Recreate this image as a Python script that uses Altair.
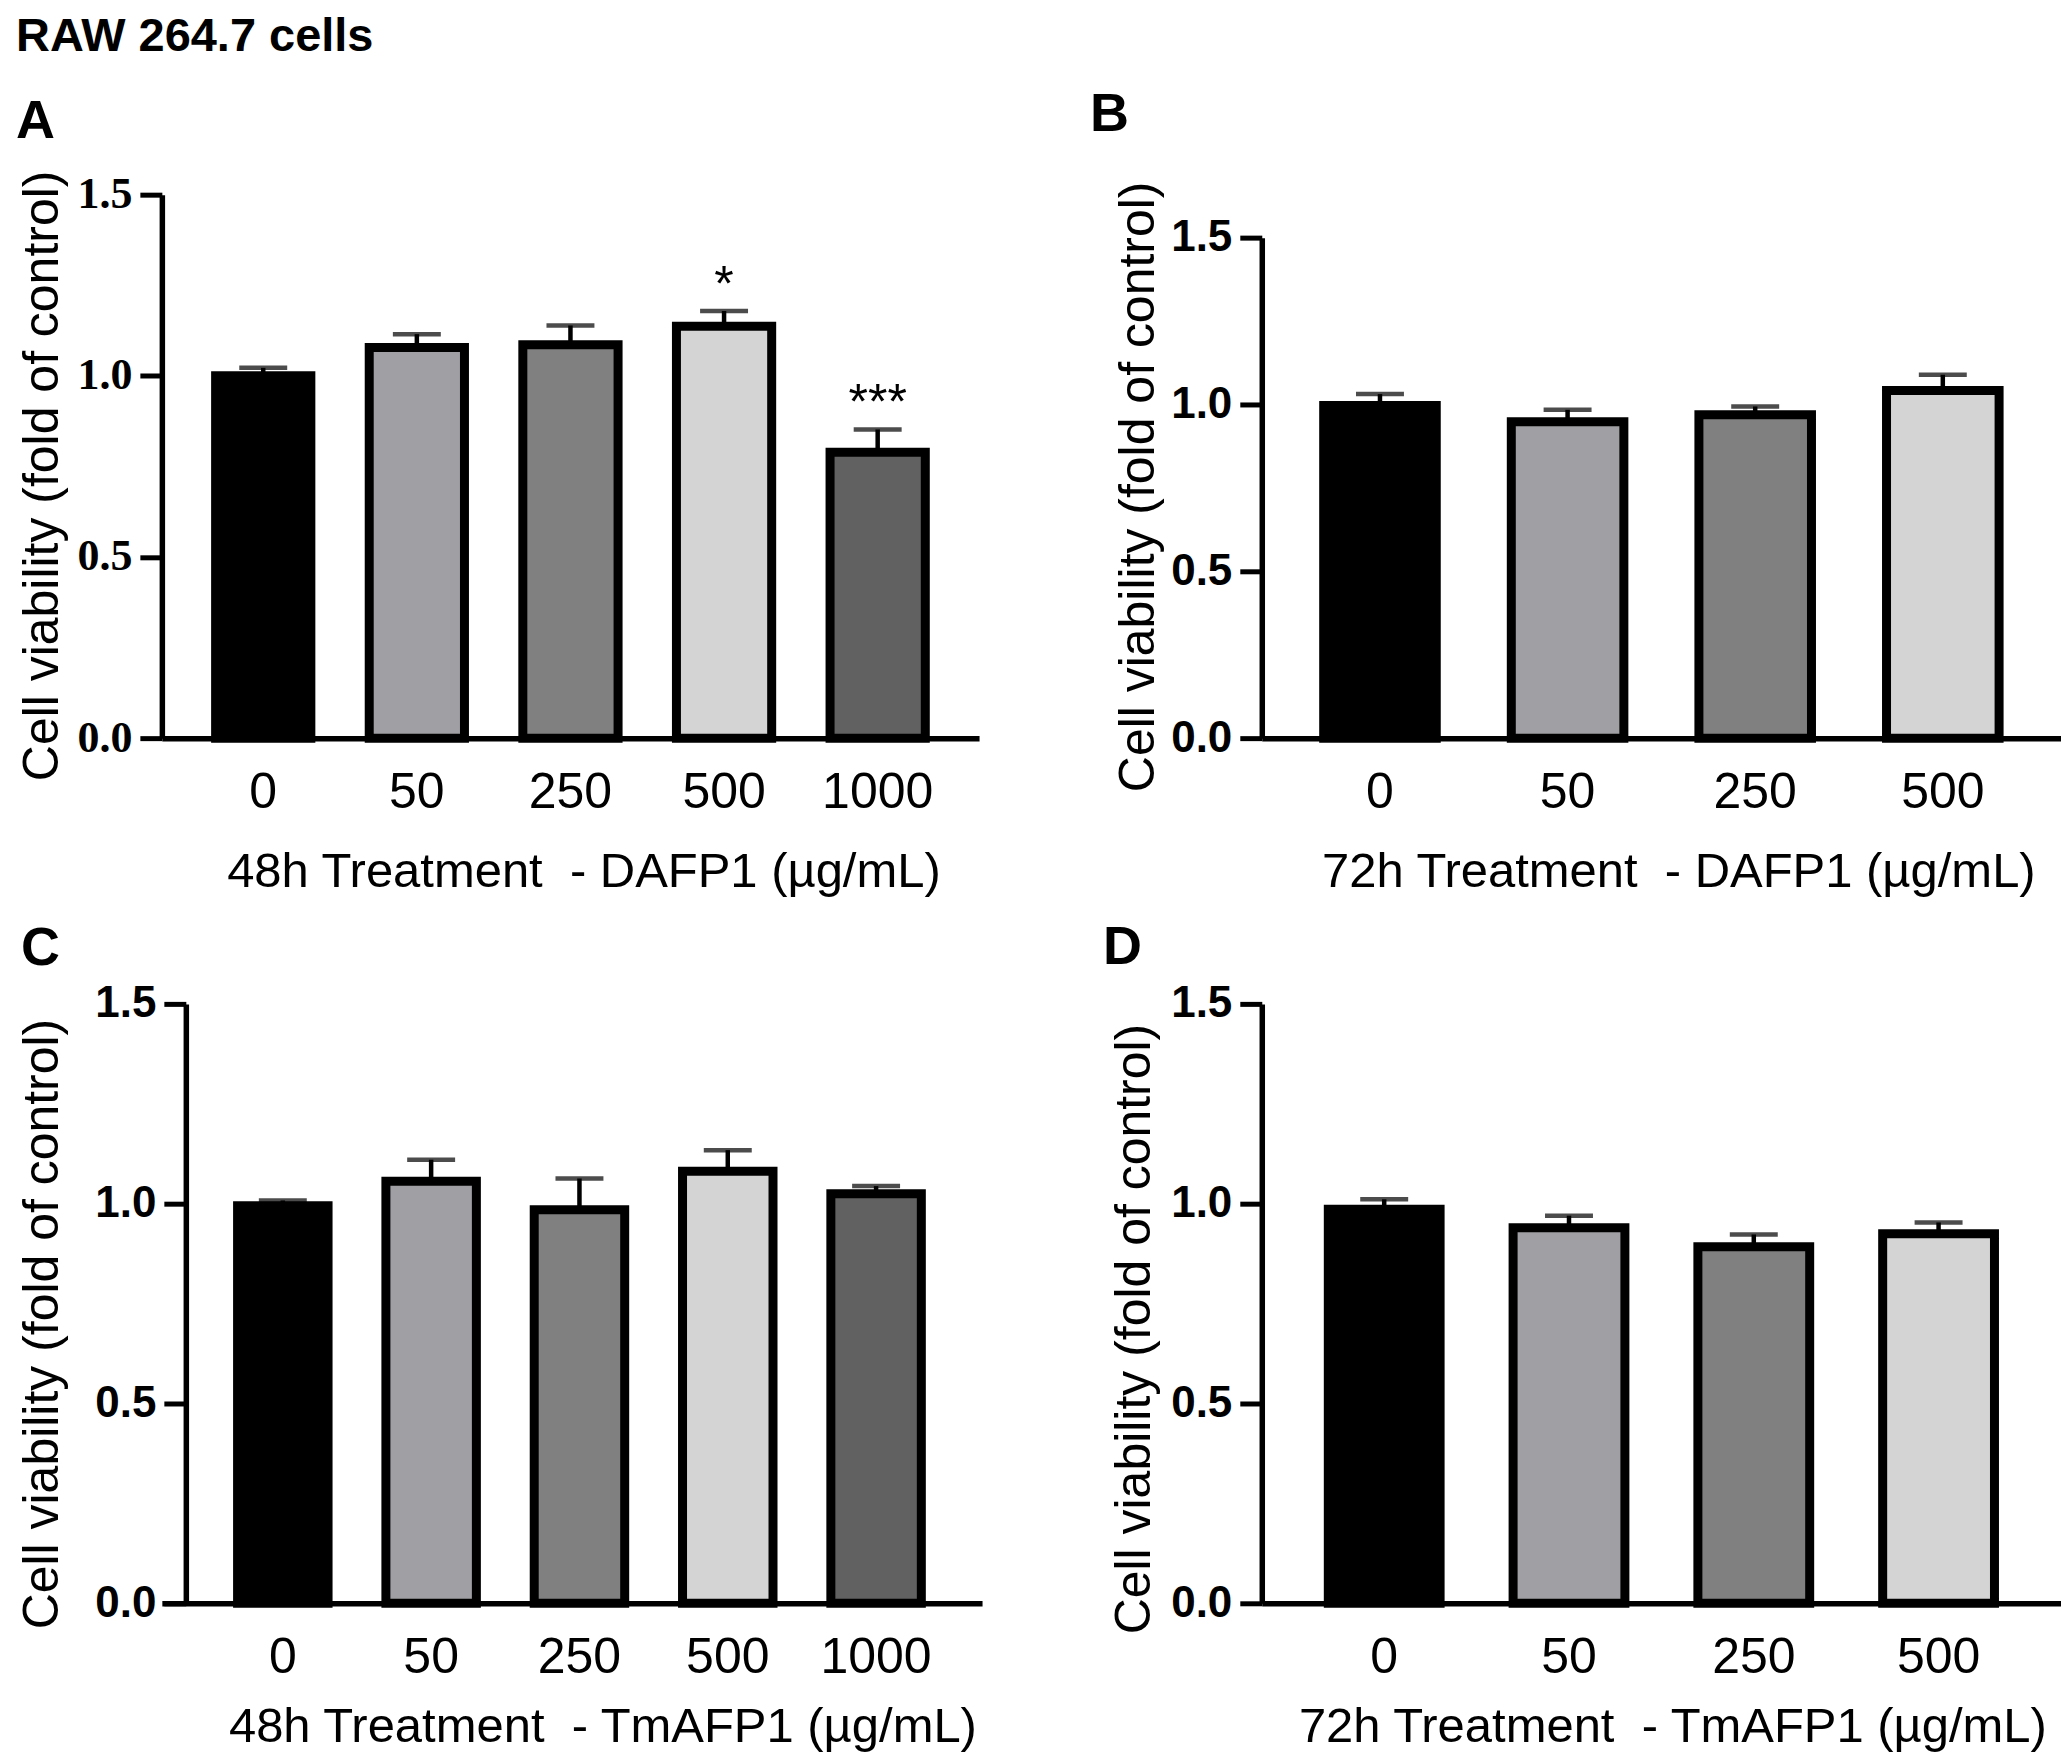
import altair as alt
import pandas as pd

# ---------------- data ----------------
doses_48 = ["0", "50", "250", "500", "1000"]
doses_72 = ["0", "50", "250", "500"]
fills_48 = ["#000000", "#a0a0a4", "#808080", "#d4d4d4", "#616161"]
fills_72 = ["#000000", "#a0a0a4", "#808080", "#d4d4d4"]

a_mean = [1.000, 1.078, 1.086, 1.137, 0.789]
a_sem = [0.022, 0.037, 0.053, 0.042, 0.063]
a_sig = ["", "", "", "*", "***"]

b_mean = [0.997, 0.948, 0.969, 1.042]
b_sem = [0.034, 0.036, 0.025, 0.047]

c_mean = [0.995, 1.056, 0.985, 1.081, 1.025]
c_sem = [0.013, 0.054, 0.078, 0.053, 0.019]

d_mean = [0.986, 0.940, 0.892, 0.925]
d_sem = [0.025, 0.030, 0.031, 0.028]

y_ticks = [0.0, 0.5, 1.0, 1.5]
y_title = "Cell viability (fold of control)"
SANS = "Liberation Sans"
SERIF = "Liberation Serif"


def panel(letter, doses, fills, mean, sem, sig, xtitle, width, height,
          yrange, xscale, ylab_font, y_axis_extra, x_title_pos, letter_dx,
          letter_offset):
    df = pd.DataFrame({"dose": doses, "mean": mean, "sem": sem})
    df["top"] = df["mean"] + df["sem"]
    df["sig"] = sig if sig else [""] * len(doses)

    yscale_kw = dict(domain=[0, 1.5], nice=False, zero=True)
    if yrange is not None:
        yscale_kw["range"] = yrange
    yscale = alt.Scale(**yscale_kw)

    yaxis = alt.Axis(
        title=y_title, values=y_ticks, format=".1f", grid=False,
        labelFont=ylab_font, labelFontWeight="bold", labelFontSize=44,
        labelColor="black", labelPadding=8,
        tickSize=22, tickWidth=5, tickColor="black",
        domainWidth=5.5, domainColor="black",
        titleFont=SANS, titleFontSize=50, titleFontWeight="normal",
        titleColor="black", titleAngle=270, titleAlign="center",
        titleBaseline="middle", **y_axis_extra)

    xaxis = alt.Axis(
        title=xtitle, ticks=False, labelAngle=0, grid=False,
        labelFont=SANS, labelFontSize=50, labelColor="black", labelPadding=29,
        domainWidth=5.5, domainColor="black",
        titleFont=SANS, titleFontSize=49, titleFontWeight="normal",
        titleColor="black", titleAlign="center", titleBaseline="middle",
        titleX=x_title_pos[0], titleY=x_title_pos[1])

    x = alt.X("dose:N", sort=doses, scale=alt.Scale(**xscale), axis=xaxis)
    base = alt.Chart(df)

    bars = base.mark_bar(stroke="black", strokeWidth=9).encode(
        x=x,
        y=alt.Y("mean:Q", scale=yscale, axis=yaxis),
        color=alt.Color("dose:N", scale=alt.Scale(domain=doses, range=fills),
                        legend=None),
    )
    stem = base.mark_rule(color="black", strokeWidth=4.5).encode(
        x=x,
        y=alt.Y("mean:Q", scale=yscale, axis=yaxis),
        y2="top:Q",
    )
    cap = base.mark_tick(color="black", size=48, thickness=4.5).encode(
        x=x,
        y=alt.Y("top:Q", scale=yscale, axis=yaxis),
    )
    layers = [stem, bars, cap]
    if sig:
        stars = base.mark_text(font=SANS, fontSize=50, color="black",
                               baseline="alphabetic", dy=-10).encode(
            x=x,
            y=alt.Y("top:Q", scale=yscale, axis=yaxis),
            text="sig:N",
        )
        layers.append(stars)

    return alt.layer(*layers).properties(
        width=width, height=height,
        title=alt.TitleParams(letter, anchor="start", frame="group",
                              dx=letter_dx, offset=letter_offset,
                              font=SANS, fontSize=54, fontWeight="bold",
                              color="black"),
    )


panel_a = panel(
    "A", doses_48, fills_48, a_mean, a_sem, a_sig,
    "48h Treatment\u00a0 - DAFP1 (µg/mL)", 818, 544, None,
    dict(paddingInner=0.38, paddingOuter=0.35), SERIF,
    dict(titleX=-119, titleY=281), (422, 134), -146, 21)

panel_b = panel(
    "B", doses_72, fills_72, b_mean, b_sem, None,
    "72h Treatment\u00a0 - DAFP1 (µg/mL)", 800, 544, [544, 43],
    dict(paddingInner=0.40, paddingOuter=0.33), SANS,
    dict(titleX=-123, titleY=292), (417, 134), -172, 39)

panel_c = panel(
    "C", doses_48, fills_48, c_mean, c_sem, None,
    "48h Treatment\u00a0 - TmAFP1 (µg/mL)", 821, 600, None,
    dict(paddingInner=0.39, paddingOuter=0.46, align=0.555), SANS,
    dict(titleX=-143, titleY=320, offset=-24), (441, 123), -141, 6)

panel_d = panel(
    "D", doses_72, fills_72, d_mean, d_sem, None,
    "72h Treatment\u00a0 - TmAFP1 (µg/mL)", 800, 600, None,
    dict(paddingInner=0.395, paddingOuter=0.36), SANS,
    dict(titleX=-127, titleY=325), (411, 123), -159, 7)

chart = alt.concat(
    panel_a, panel_b, panel_c, panel_d,
    columns=2, spacing={"row": 266, "column": 280},
    bounds="flush", align="each",
).properties(
    title=alt.TitleParams("RAW 264.7 cells", anchor="start", frame="bounds",
                          font=SANS, fontSize=47, fontWeight="bold",
                          color="black", offset=27),
    padding={"left": 8, "top": 4, "right": 0, "bottom": 0},
    background="white",
).configure_view(stroke=None)

chart.save("out.html", embed_options={"renderer": "svg", "actions": False})
